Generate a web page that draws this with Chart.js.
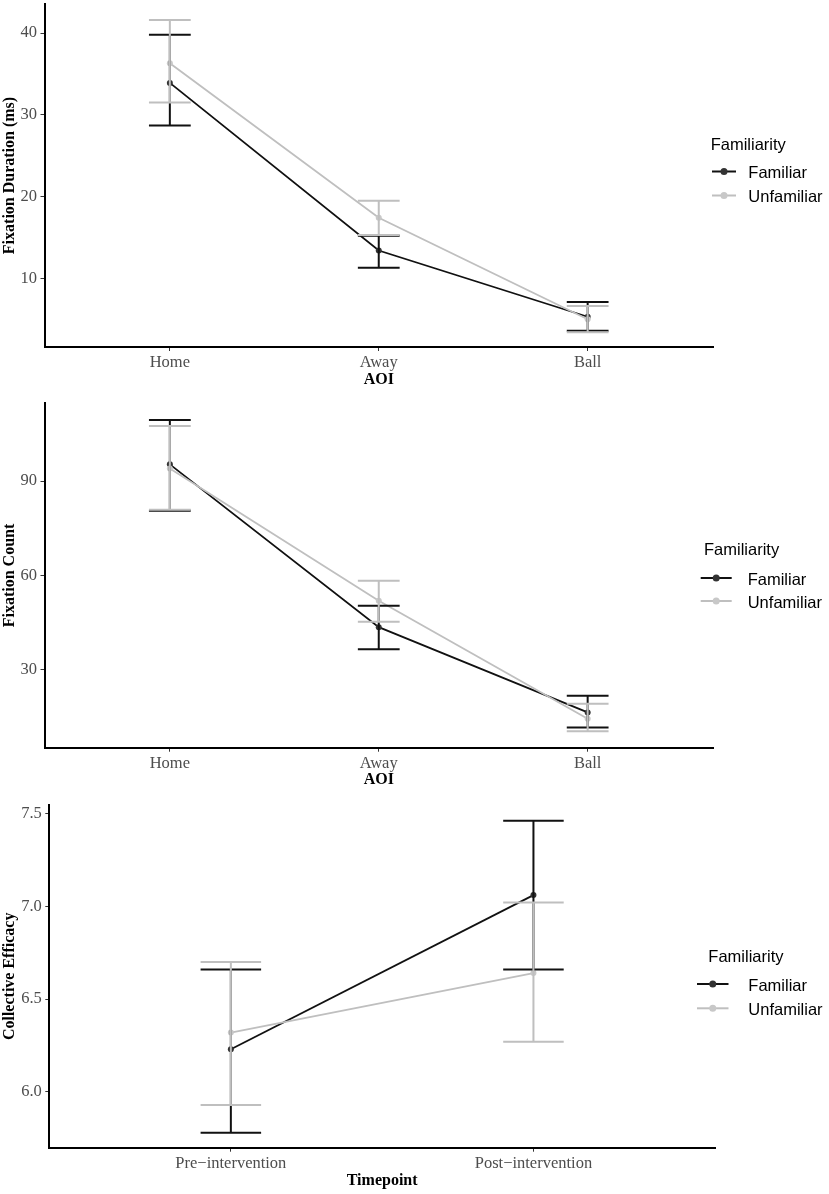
<!DOCTYPE html>
<html>
<head>
<meta charset="utf-8">
<script src="https://cdn.jsdelivr.net/npm/chart.js@4.4.1/dist/chart.umd.min.js"></script>
<style>
  body { margin: 0; background: #fff; }
  canvas { position: absolute; left: 0; }
</style>
</head>
<body>
<canvas id="duration-chart" width="829" height="392" style="top:0px;width:829px;height:392px"></canvas>
<canvas id="count-chart" width="829" height="400" style="top:392px;width:829px;height:400px"></canvas>
<canvas id="efficacy-chart" width="829" height="402" style="top:792px;width:829px;height:402px"></canvas>
<script>
// Categorias
const aoiLabels = ['Home', 'Away', 'Ball'];
const timeLabels = ['Pre\u2212intervention', 'Post\u2212intervention'];
const groupLabels = ['Familiar', 'Unfamiliar'];
const legendTitle = 'Familiarity';

// Fixation Duration (ms): média e limites do erro
const durFamiliar = [33.9, 13.4, 5.3];
const durFamiliarLow = [28.7, 11.3, 3.6];
const durFamiliarHigh = [39.8, 15.2, 7.1];
const durUnfamiliar = [36.3, 17.4, 5.0];
const durUnfamiliarLow = [31.5, 15.3, 3.4];
const durUnfamiliarHigh = [41.6, 19.5, 6.6];
const durTicks = [10, 20, 30, 40];
const durTickLabels = ['10', '20', '30', '40'];

// Fixation Count
const countFamiliar = [95.3, 43.6, 16.5];
const countFamiliarLow = [80.6, 36.6, 11.7];
const countFamiliarHigh = [109.4, 50.4, 21.8];
const countUnfamiliar = [94.0, 52.0, 14.5];
const countUnfamiliarLow = [80.9, 45.3, 10.5];
const countUnfamiliarHigh = [107.5, 58.3, 19.3];
const countTicks = [30, 60, 90];
const countTickLabels = ['30', '60', '90'];

// Collective Efficacy
const ceFamiliar = [6.23, 7.06];
const ceFamiliarLow = [5.78, 6.66];
const ceFamiliarHigh = [6.66, 7.46];
const ceUnfamiliar = [6.32, 6.64];
const ceUnfamiliarLow = [5.93, 6.27];
const ceUnfamiliarHigh = [6.70, 7.02];
const ceTicks = [6.0, 6.5, 7.0, 7.5];
const ceTickLabels = ['6.0', '6.5', '7.0', '7.5'];

const darkLine = '#111111';
const darkPoint = '#333333';
const lightLine = '#bfbfbf';
const lightPoint = '#c8c8c8';
const serif = "'Liberation Serif', 'Times New Roman', serif";
const sans = "'Liberation Sans', Arial, sans-serif";

// barras de erro, desenhadas por cima das linhas
const errorBars = {
  id: 'errorBars',
  afterDatasetsDraw(chart) {
    const ctx = chart.ctx;
    const x = chart.scales.x;
    const y = chart.scales.y;
    chart.data.datasets.forEach(ds => {
      ctx.save();
      ctx.strokeStyle = ds.borderColor;
      ctx.lineWidth = 2;
      ds.lows.forEach((lo, i) => {
        const hi = ds.highs[i];
        const px = x.getPixelForValue(i + 1);
        const x0 = x.getPixelForValue(i + 1 - 0.1);
        const x1 = x.getPixelForValue(i + 1 + 0.1);
        const yLo = y.getPixelForValue(lo);
        const yHi = y.getPixelForValue(hi);
        ctx.beginPath();
        ctx.moveTo(px, yLo); ctx.lineTo(px, yHi);
        ctx.moveTo(x0, yLo); ctx.lineTo(x1, yLo);
        ctx.moveTo(x0, yHi); ctx.lineTo(x1, yHi);
        ctx.stroke();
      });
      ctx.restore();
    });
  }
};

// legenda no estilo do ggplot
const sideLegend = {
  id: 'sideLegend',
  afterDraw(chart, args, opts) {
    const ctx = chart.ctx;
    ctx.save();
    ctx.font = '16.5px ' + sans;
    ctx.fillStyle = '#000';
    ctx.textBaseline = 'middle';
    ctx.textAlign = 'left';
    ctx.fillText(legendTitle, opts.titleX, opts.titleY);
    chart.data.datasets.forEach((ds, i) => {
      const ky = opts.rowY[i];
      ctx.strokeStyle = ds.borderColor;
      ctx.lineWidth = 2;
      ctx.beginPath();
      ctx.moveTo(opts.keyX0, ky);
      ctx.lineTo(opts.keyX1, ky);
      ctx.stroke();
      ctx.fillStyle = ds.pointBackgroundColor;
      ctx.beginPath();
      ctx.arc((opts.keyX0 + opts.keyX1) / 2, ky, 3.5, 0, Math.PI * 2);
      ctx.fill();
      ctx.fillStyle = '#000';
      ctx.fillText(ds.label, opts.textX, ky + 2);
    });
    ctx.restore();
  }
};

function makeSeries(label, values, lows, highs, line, point, order) {
  return {
    label: label,
    data: values.map((v, i) => ({ x: i + 1, y: v })),
    lows: lows,
    highs: highs,
    borderColor: line,
    borderWidth: 1.8,
    pointBackgroundColor: point,
    pointBorderWidth: 0,
    pointRadius: 3,
    tension: 0,
    fill: false,
    order: order
  };
}

function makeChart(id, box, cats, datasets, yRange, yTicks, yTickLabels, xTitle, yTitle, legend) {
  return new Chart(document.getElementById(id), {
    type: 'line',
    data: { datasets: datasets },
    plugins: [errorBars, sideLegend],
    options: {
      responsive: false,
      animation: false,
      events: [],
      layout: {
        autoPadding: false,
        padding: { left: 0, top: box.top, right: 829 - box.right, bottom: box.padBottom }
      },
      plugins: {
        legend: { display: false },
        tooltip: { enabled: false },
        sideLegend: legend
      },
      scales: {
        x: {
          type: 'linear',
          min: 0.4,
          max: cats.length + 0.6,
          afterBuildTicks: s => { s.ticks = cats.map((c, i) => ({ value: i + 1 })); },
          afterFit: s => { s.height = box.xHeight; s.paddingLeft = 0; s.paddingRight = 0; },
          ticks: {
            callback: v => cats[v - 1],
            color: '#4d4d4d',
            font: { family: serif, size: 16.5 },
            padding: 2,
            maxRotation: 0,
            autoSkip: false
          },
          grid: { drawOnChartArea: false, tickLength: 4, color: '#333', lineWidth: 1 },
          border: { color: '#000', width: 2 },
          title: {
            display: true, text: xTitle, color: '#000', padding: 0,
            font: { family: serif, size: 16, weight: 'bold' }
          }
        },
        y: {
          type: 'linear',
          min: yRange[0],
          max: yRange[1],
          afterBuildTicks: s => { s.ticks = yTicks.map(v => ({ value: v })); },
          afterFit: s => { s.width = box.left; s.paddingTop = 0; s.paddingBottom = 0; },
          ticks: {
            callback: (v, i) => yTickLabels[i],
            color: '#4d4d4d',
            font: { family: serif, size: 16.5 },
            padding: 3.5
          },
          grid: { drawOnChartArea: false, tickLength: 4, color: '#333', lineWidth: 1 },
          border: { color: '#000', width: 2 },
          title: {
            display: true, text: yTitle, color: '#000', padding: 0,
            font: { family: serif, size: 16, weight: 'bold' }
          }
        }
      }
    }
  });
}

// Gráfico 1: duração da fixação
const durationChart = makeChart('duration-chart',
  { left: 44.5, top: 4, right: 713, xHeight: 42.6, padBottom: 2.4 },
  aoiLabels,
  [
    makeSeries(groupLabels[0], durFamiliar, durFamiliarLow, durFamiliarHigh, darkLine, darkPoint, 1),
    makeSeries(groupLabels[1], durUnfamiliar, durUnfamiliarLow, durUnfamiliarHigh, lightLine, lightPoint, 0)
  ],
  [1.6, 43.55], durTicks, durTickLabels, 'AOI', 'Fixation Duration (ms)',
  { titleX: 710.7, titleY: 145, keyX0: 712, keyX1: 736, textX: 748.3, rowY: [171.5, 195.5] }
);

// Gráfico 2: número de fixações
const countChart = makeChart('count-chart',
  { left: 44.5, top: 11.3, right: 713, xHeight: 41.9, padBottom: 2.4 },
  aoiLabels,
  [
    makeSeries(groupLabels[0], countFamiliar, countFamiliarLow, countFamiliarHigh, darkLine, darkPoint, 1),
    makeSeries(groupLabels[1], countUnfamiliar, countUnfamiliarLow, countUnfamiliarHigh, lightLine, lightPoint, 0)
  ],
  [5.3, 114.7], countTicks, countTickLabels, 'AOI', 'Fixation Count',
  { titleX: 704, titleY: 158, keyX0: 700.7, keyX1: 731.7, textX: 747.7, rowY: [186, 209] }
);

// Gráfico 3: eficácia coletiva
const efficacyChart = makeChart('efficacy-chart',
  { left: 49.3, top: 13, right: 715, xHeight: 42.6, padBottom: 3.7 },
  timeLabels,
  [
    makeSeries(groupLabels[0], ceFamiliar, ceFamiliarLow, ceFamiliarHigh, darkLine, darkPoint, 1),
    makeSeries(groupLabels[1], ceUnfamiliar, ceUnfamiliarLow, ceUnfamiliarHigh, lightLine, lightPoint, 0)
  ],
  [5.70, 7.545], ceTicks, ceTickLabels, 'Timepoint', 'Collective Efficacy',
  { titleX: 708.3, titleY: 165.7, keyX0: 697, keyX1: 728.5, textX: 748.3, rowY: [192, 216.3] }
);
</script>
</body>
</html>
